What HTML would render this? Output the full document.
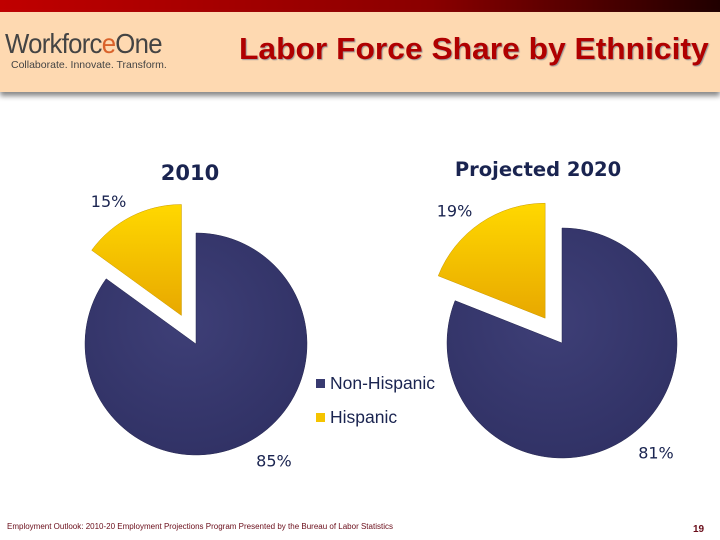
<!DOCTYPE html>
<html><head><meta charset="utf-8"><style>
html,body{margin:0;padding:0;width:720px;height:540px;overflow:hidden;background:#fff;font-family:"Liberation Sans",sans-serif}
</style></head><body>
<div style="position:absolute;left:0;top:0;width:720px;height:12px;background:linear-gradient(90deg,#c00000,#8a0000 60%,#200000)"></div>
<div style="position:absolute;left:0;top:12px;width:720px;height:80px;background:#fed9b1;box-shadow:0 4px 5px #888"></div>
<div style="position:absolute;left:5px;top:28px;font-size:28px;color:#444;letter-spacing:-0.8px;transform:scaleX(0.92);transform-origin:left">Workforc<span style="color:#d9622b">e</span>One</div>
<div style="position:absolute;left:11px;top:59px;font-size:10.5px;color:#444;white-space:nowrap">Collaborate.  Innovate.  Transform.</div>
<div style="position:absolute;left:239px;top:31px;font-size:31px;font-weight:bold;color:#b00000;text-shadow:1px 1px 1px #999;white-space:nowrap;transform:scaleX(1.025);transform-origin:left">Labor Force Share by Ethnicity</div>
<svg id="chart" width="720" height="540" style="position:absolute;left:0;top:0">
<defs>
<linearGradient id="gy" x1="0" y1="0" x2="0" y2="1"><stop offset="0" stop-color="#ffd800"/><stop offset="1" stop-color="#e8a800"/></linearGradient>
<radialGradient id="gn" cx="0.45" cy="0.4" r="0.7"><stop offset="0" stop-color="#3e3f77"/><stop offset="1" stop-color="#2f3063"/></radialGradient>
</defs>
</svg>
<div style="position:absolute;left:316px;top:373px;font-size:17.5px;color:#1a2450"><span style="display:inline-block;width:9px;height:9px;background:#383a70;margin-right:5px;vertical-align:1px"></span>Non-Hispanic</div>
<div style="position:absolute;left:316px;top:407px;font-size:17.5px;color:#1a2450"><span style="display:inline-block;width:9px;height:9px;background:#f5c400;margin-right:5px;vertical-align:1px"></span>Hispanic</div>
<div style="position:absolute;left:7px;top:522px;font-size:8px;color:#6a0d1a">Employment Outlook: 2010-20 Employment Projections Program Presented by the Bureau of Labor Statistics</div>
<div style="position:absolute;left:693px;top:524px;font-size:10px;font-weight:bold;color:#6a0d1a">19</div>
<script>
const titles = ["2010", "Projected 2020"];
const hispanic = [15, 19];
const nonHispanic = [85, 81];
const svg = document.getElementById('chart');
const NS = 'http://www.w3.org/2000/svg';
const cfg = [{cx:196,cy:344,r:111,tx:190,ty:180,ts:21,explode:32},{cx:562,cy:343,r:115,tx:538,ty:176,ts:19.5,explode:30}];
function pt(cx,cy,r,frac){const a=frac*2*Math.PI;return [cx+r*Math.sin(a),cy-r*Math.cos(a)];}
function slice(cx,cy,r,f0,f1){const p0=pt(cx,cy,r,f0),p1=pt(cx,cy,r,f1);const large=(f1-f0)>0.5?1:0;return `M${cx},${cy}L${p0[0]},${p0[1]}A${r},${r} 0 ${large} 1 ${p1[0]},${p1[1]}Z`;}
function txt(x,y,s,size,weight,name,anchor){const t=document.createElementNS(NS,'text');t.setAttribute('x',x);t.setAttribute('y',y);t.setAttribute('font-size',size);t.setAttribute('font-weight',weight);t.setAttribute('fill','#1a2450');t.setAttribute('text-anchor',anchor||'middle');t.setAttribute('font-family','DejaVu Sans, sans-serif');t.textContent=s;


svg.appendChild(t);}
titles.forEach((title,i)=>{
  const c=cfg[i];const tot=hispanic[i]+nonHispanic[i];const fh=hispanic[i]/tot;
  const n=document.createElementNS(NS,'path');
  n.setAttribute('d',slice(c.cx,c.cy,c.r,0,1-fh));n.setAttribute('fill','url(#gn)');n.setAttribute('stroke','#25264f');n.setAttribute('stroke-width','0.5');
  
  
  svg.appendChild(n);
  const mid=1-fh/2;const a=mid*2*Math.PI;const ox=c.explode*Math.sin(a),oy=-c.explode*Math.cos(a);
  const h=document.createElementNS(NS,'path');
  h.setAttribute('d',slice(c.cx+ox,c.cy+oy,c.r,1-fh,1));h.setAttribute('fill','url(#gy)');h.setAttribute('stroke','#c99a00');h.setAttribute('stroke-width','0.5');
  
  
  svg.appendChild(h);
  txt(c.tx,c.ty,title,c.ts,'bold','chart-title-'+i);
  const lh=pt(c.cx+ox,c.cy+oy,c.r+22,1-fh*0.55);
  txt(lh[0]-7,lh[1]+7,hispanic[i]+'%',16,'normal','label-hispanic-'+i);
  const ln=pt(c.cx,c.cy,c.r+28,(1-fh)*0.48);
  txt(ln[0]+2,ln[1]+6,nonHispanic[i]+'%',16,'normal','label-non-hispanic-'+i);
});
</script>
</body></html>
